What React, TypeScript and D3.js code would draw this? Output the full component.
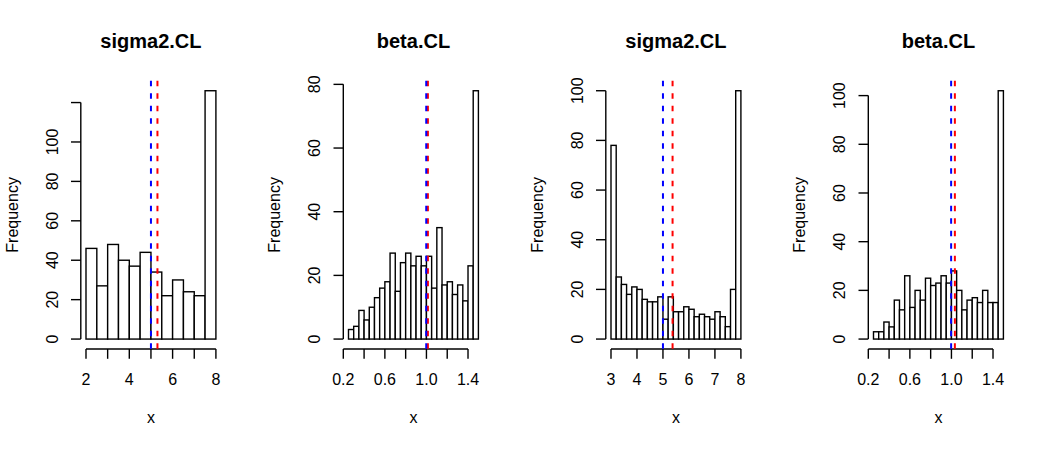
import React from "react";
import * as d3 from "d3";

// ---- data ----
const titles = ["sigma2.CL", "beta.CL", "sigma2.CL", "beta.CL"];

const breaks1 = d3.range(0, 13).map((i) => 2 + i * 0.5);
const counts1 = [46, 27, 48, 40, 37, 44, 34, 22, 30, 24, 22, 126];

const breaks2 = d3.range(0, 26).map((i) => 0.25 + i * 0.05);
const counts2 = [3, 4, 9, 6, 10, 13, 16, 18, 27, 15, 24, 27, 23, 26, 23, 26, 16, 35, 17, 18, 14, 17, 12, 23, 78];

const breaks3 = d3.range(0, 26).map((i) => 3 + i * 0.2);
const counts3 = [78, 25, 22, 18, 21, 20, 16, 15, 15, 17, 8, 17, 11, 11, 13, 12, 9, 10, 9, 8, 11, 9, 5, 20, 100];

const breaks4 = d3.range(0, 26).map((i) => 0.25 + i * 0.05);
const counts4 = [3, 3, 7, 5, 16, 12, 26, 13, 20, 16, 25, 22, 23, 26, 23, 28, 20, 12, 16, 17, 15, 20, 15, 15, 102];

const blueLines = [5.0, 0.998, 5.0, 0.997];
const redLines = [5.3, 1.014, 5.37, 1.033];

const xTicks1 = [2, 3, 4, 5, 6, 7, 8];
const xLabels1 = ["2", "", "4", "", "6", "", "8"];
const xTicks2 = [0.2, 0.4, 0.6, 0.8, 1.0, 1.2, 1.4];
const xLabels2 = ["0.2", "", "0.6", "", "1.0", "", "1.4"];
const xTicks3 = [3, 4, 5, 6, 7, 8];
const xLabels3 = ["3", "4", "5", "6", "7", "8"];
const xTicks4 = [0.2, 0.4, 0.6, 0.8, 1.0, 1.2, 1.4];
const xLabels4 = ["0.2", "", "0.6", "", "1.0", "", "1.4"];

const yTicks1 = [0, 20, 40, 60, 80, 100, 120];
const yLabels1 = ["0", "20", "40", "60", "80", "100", ""];
const yTicks2 = [0, 20, 40, 60, 80];
const yLabels2 = ["0", "20", "40", "60", "80"];
const yTicks3 = [0, 20, 40, 60, 80, 100];
const yLabels3 = ["0", "20", "40", "60", "80", "100"];
const yTicks4 = [0, 20, 40, 60, 80, 100];
const yLabels4 = ["0", "20", "40", "60", "80", "100"];

const panels = [
  { breaks: breaks1, counts: counts1, xTicks: xTicks1, xLabels: xLabels1, yTicks: yTicks1, yLabels: yLabels1 },
  { breaks: breaks2, counts: counts2, xTicks: xTicks2, xLabels: xLabels2, yTicks: yTicks2, yLabels: yLabels2 },
  { breaks: breaks3, counts: counts3, xTicks: xTicks3, xLabels: xLabels3, yTicks: yTicks3, yLabels: yLabels3 },
  { breaks: breaks4, counts: counts4, xTicks: xTicks4, xLabels: xLabels4, yTicks: yTicks4, yLabels: yLabels4 },
];

const W = 1050;
const H = 450;
const PW = W / 4;
const FONT = "'Liberation Sans', Arial, Helvetica, sans-serif";

function Panel({ idx }: { idx: number }) {
  const p = panels[idx];
  const ox = idx * PW;
  const L = ox + 80.8;
  const R = ox + 221.1;
  const T = 80.8;
  const B = 349;
  const lo = p.breaks[0];
  const hi = p.breaks[p.breaks.length - 1];
  const ext = 0.04 * (hi - lo);
  const x = d3.scaleLinear().domain([lo - ext, hi + ext]).range([L, R]);
  const ymax = d3.max(p.counts) as number;
  const y = d3.scaleLinear().domain([-0.04 * ymax, 1.04 * ymax]).range([B, T]);
  const tick = 9.8;
  const cx = (L + R) / 2;
  const cy = (T + B) / 2;
  const yTop = p.yTicks[p.yTicks.length - 1];
  const sw = 1.4;
  return (
    <g>
      <text x={cx} y={48} textAnchor="middle" fontFamily={FONT} fontWeight="bold" fontSize={20}>
        {titles[idx]}
      </text>
      {p.counts.map((c, i) => (
        <rect
          key={i}
          x={x(p.breaks[i])}
          y={y(c)}
          width={x(p.breaks[i + 1]) - x(p.breaks[i])}
          height={y(0) - y(c)}
          fill="white"
          stroke="black"
          strokeWidth={sw}
        />
      ))}
      {/* x axis */}
      <line x1={x(p.xTicks[0])} x2={x(p.xTicks[p.xTicks.length - 1])} y1={B} y2={B} stroke="black" strokeWidth={sw} />
      {p.xTicks.map((t, i) => (
        <g key={i}>
          <line x1={x(t)} x2={x(t)} y1={B} y2={B + tick} stroke="black" strokeWidth={sw} />
          {p.xLabels[i] && (
            <text x={x(t)} y={385} textAnchor="middle" fontFamily={FONT} fontSize={16}>
              {p.xLabels[i]}
            </text>
          )}
        </g>
      ))}
      {/* y axis */}
      <line x1={L} x2={L} y1={y(0)} y2={y(yTop)} stroke="black" strokeWidth={sw} />
      {p.yTicks.map((t, i) => (
        <g key={i}>
          <line x1={L - tick} x2={L} y1={y(t)} y2={y(t)} stroke="black" strokeWidth={sw} />
          {p.yLabels[i] && (
            <text
              transform={`translate(${ox + 57.5},${y(t)}) rotate(-90)`}
              textAnchor="middle"
              fontFamily={FONT}
              fontSize={16}
            >
              {p.yLabels[i]}
            </text>
          )}
        </g>
      ))}
      <text x={cx} y={423} textAnchor="middle" fontFamily={FONT} fontSize={16}>
        x
      </text>
      <text transform={`translate(${ox + 17.5},${cy}) rotate(-90)`} textAnchor="middle" fontFamily={FONT} fontSize={16}>
        Frequency
      </text>
      {/* vertical reference lines */}
      <line x1={x(redLines[idx])} x2={x(redLines[idx])} y1={T} y2={B} stroke="red" strokeWidth={2} strokeDasharray="5.5 7" />
      <line x1={x(blueLines[idx])} x2={x(blueLines[idx])} y1={T} y2={B} stroke="blue" strokeWidth={2} strokeDasharray="5.5 7" />
    </g>
  );
}

export default function App() {
  return (
    <svg
      width={W}
      height={H}
      viewBox={`0 0 ${W} ${H}`}
      style={{ position: "absolute", left: 0, top: 0, background: "white" }}
    >
      <rect x={0} y={0} width={W} height={H} fill="white" />
      {panels.map((_, i) => (
        <Panel key={i} idx={i} />
      ))}
    </svg>
  );
}
